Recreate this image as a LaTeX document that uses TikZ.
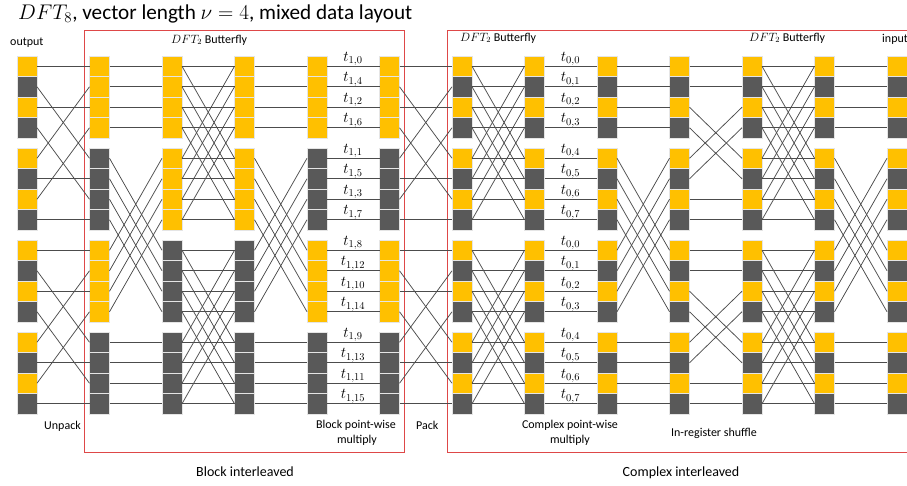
\RequirePackage{fix-cm}
\documentclass[tikz,border=0pt]{standalone}
\usepackage{fontspec}
\setmainfont{Carlito}
\definecolor{gold}{HTML}{FFC000}
\definecolor{slate}{HTML}{595959}
\definecolor{framered}{RGB}{222,72,72}

% wiring patterns between neighbouring columns (source row / target row)
\def\wiresU{0/0,2/2,5/5,7/7,1/4,4/1,3/6,6/3,8/8,10/10,13/13,15/15,9/12,12/9,11/14,14/11}
\def\wiresG{0/0,1/1,2/2,3/3,4/8,5/9,6/10,7/11,8/4,9/5,10/6,11/7,12/12,13/13,14/14,15/15}
\def\wiresB{0/0,0/4,1/1,1/5,2/2,2/6,3/3,3/7,4/4,4/0,5/5,5/1,6/6,6/2,7/7,7/3,8/8,8/12,9/9,9/13,10/10,10/14,11/11,11/15,12/12,12/8,13/13,13/9,14/14,14/10,15/15,15/11}
\def\wiresS{0/0,1/1,2/2,3/3,4/4,5/5,6/6,7/7,8/8,9/9,10/10,11/11,12/12,13/13,14/14,15/15}
\def\wiresR{0/0,1/1,2/4,3/5,4/2,5/3,6/6,7/7,8/8,9/9,10/12,11/13,12/10,13/11,14/14,15/15}

\newcommand\linkcols[2]{%
  \pgfmathtruncatemacro\nextcol{#1+1}%
  \foreach \a/\b in #2 {\draw[wire] (c-#1-\a.east) -- (c-\nextcol-\b.west);}%
}
\newcommand\rowy[1]{\pgfmathsetmacro\yy{56+92*int(#1/4)+20.5*mod(#1,4)+10.25}}

\begin{document}
\begin{tikzpicture}[x=1pt,y=-1pt,
  cell/.style={rectangle, minimum width=20pt, minimum height=20.5pt,
    inner sep=0pt, outer sep=0pt, draw=black!10, line width=0.5pt},
  wire/.style={draw=black!70, line width=0.75pt},
  frame/.style={draw=framered, line width=1pt},
  lbl/.style={font=\fontsize{12}{14}\selectfont, inner sep=0pt},
  biglbl/.style={font=\fontsize{14}{16}\selectfont, inner sep=0pt, anchor=base},
  tlbl/.style={font=\fontsize{15}{15}\selectfont, inner sep=0pt, anchor=base},
]
\useasboundingbox (0,0) rectangle (907,485);

% red frames of the two data layouts
\draw[frame] (84.5,30) rectangle (404.5,452);
\draw[frame] (912,30) -- (447,30) -- (447,452) -- (912,452);

% register columns: 0 = alternating, 1 = Y,D,Y,D groups, 2 = Y,Y,D,D groups
\foreach \i/\t in {0/0,1/1,2/2,3/2,4/1,5/1,6/0,7/0,8/0,9/0,10/0,11/0,12/0}{
  \foreach \r in {0,...,15}{
    \pgfmathtruncatemacro\g{int(\r/4)}
    \rowy{\r}
    \pgfmathsetmacro\xx{27+72.5*\i}
    \ifcase\t
      \pgfmathtruncatemacro\isy{mod(\r,2)==0}
    \or
      \pgfmathtruncatemacro\isy{mod(\g,2)==0}
    \or
      \pgfmathtruncatemacro\isy{\g<2}
    \fi
    \ifnum\isy=1 \def\cfill{gold}\else\def\cfill{slate}\fi
    \node[cell, fill=\cfill] (c-\i-\r) at (\xx,\yy) {};
  }
}

% connections
\linkcols{0}{\wiresU}
\linkcols{1}{\wiresG}
\linkcols{2}{\wiresB}
\linkcols{3}{\wiresG}
\linkcols{4}{\wiresS}
\linkcols{5}{\wiresU}
\linkcols{6}{\wiresB}
\linkcols{7}{\wiresS}
\linkcols{8}{\wiresG}
\linkcols{9}{\wiresR}
\linkcols{10}{\wiresB}
\linkcols{11}{\wiresG}

% twiddle factors
\foreach \r/\n in {0/0,1/4,2/2,3/6,4/1,5/5,6/3,7/7,8/8,9/12,10/10,11/14,12/9,13/13,14/11,15/15}{
  \rowy{\r}
  \node[tlbl] (ta-\r) at (353,\yy-5) {$t_{1,\n}$};
}
\foreach \r in {0,...,15}{
  \rowy{\r}
  \pgfmathtruncatemacro\n{mod(\r,8)}
  \node[tlbl] (tb-\r) at (570.5,\yy-5) {$t_{0,\n}$};
}

% title and labels
\node[anchor=base west, inner sep=0pt, font=\fontsize{21.2}{24}\selectfont] (title) at (18,19)
  {$DFT_8$, vector length $\nu = 4$, mixed data layout};
\node[lbl, anchor=base west] (outlbl) at (10,45) {output};
\node[lbl, anchor=base west] (inlbl) at (882,42) {input};
\node[lbl, anchor=base west] (bf1) at (171,43) {$DFT_2$ Butterfly};
\node[lbl, anchor=base west] (bf2) at (460,41) {$DFT_2$ Butterfly};
\node[lbl, anchor=base west] (bf3) at (749,41) {$DFT_2$ Butterfly};
\node[lbl, anchor=base east] (unpack) at (81,429) {Unpack};
\node[lbl, anchor=base west] (pack) at (416,429) {Pack};
\node[lbl, anchor=base] (bpm1) at (356,428) {Block point-wise};
\node[lbl, anchor=base] (bpm2) at (357,443) {multiply};
\node[lbl, anchor=base] (cpm1) at (570,428) {Complex point-wise};
\node[lbl, anchor=base] (cpm2) at (570,443) {multiply};
\node[lbl, anchor=base] (irs) at (714,436) {In-register shuffle};
\node[biglbl] (blk) at (245,476) {Block interleaved};
\node[biglbl] (cpx) at (681,476) {Complex interleaved};
\end{tikzpicture}
\end{document}
